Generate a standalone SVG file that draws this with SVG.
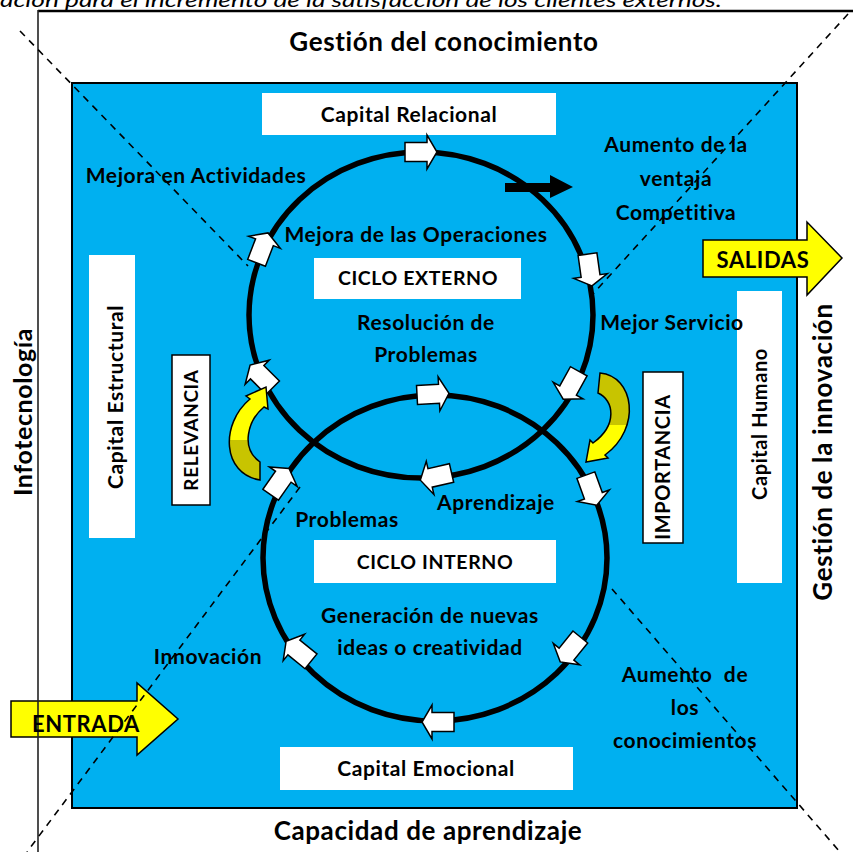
<svg xmlns="http://www.w3.org/2000/svg" width="853" height="852" viewBox="0 0 853 852">
<style>
.t{font-family:Lato,"Liberation Sans",sans-serif;font-weight:bold;font-size:21px;letter-spacing:0.6px;fill:#000;text-anchor:middle}
.h{font-size:26px}
.box{fill:#fff}
.bbox{fill:#fff;stroke:#000;stroke-width:1.5}
.ring{fill:none;stroke:#000;stroke-width:5.5}
.dash{fill:none;stroke:#000;stroke-width:1.6;stroke-dasharray:7 6}
.wa{fill:#fff;stroke:#000;stroke-width:1.5}
.ya{fill:#FFFF00;stroke:#000;stroke-width:1.5}
</style>
<defs>
<path id="wa" d="M-18,-9.5 H4 V-17 L14,0 L4,17 V9.5 H-18 Z"/>
<linearGradient id="gL" x1="0" y1="0" x2="0" y2="1">
<stop offset="0" stop-color="#FFFF00"/><stop offset="0.57" stop-color="#FFFF00"/>
<stop offset="0.57" stop-color="#C8C400"/><stop offset="1" stop-color="#C8C400"/>
</linearGradient>
<linearGradient id="gR" x1="0" y1="0" x2="0" y2="1">
<stop offset="0" stop-color="#C8C400"/><stop offset="0.58" stop-color="#C8C400"/>
<stop offset="0.58" stop-color="#FFFF00"/><stop offset="1" stop-color="#FFFF00"/>
</linearGradient>
</defs>
<rect width="853" height="852" fill="#fff"/>
<text x="0" y="7" textLength="722" lengthAdjust="spacingAndGlyphs" style="font-family:Lato,'Liberation Sans',sans-serif;font-style:italic;font-size:20px;fill:#000">ación para el incremento de la satisfacción de los clientes externos.</text>

<g id="frame">
<rect x="72" y="83" width="725" height="725" fill="#00B0F0" stroke="#000" stroke-width="2"/>
</g>

<g id="entrada">
<path class="ya" d="M11,701 H137 V683 L178,719 L137,755 V737 H11 Z"/>
</g>

<g id="frame-lines">
<line x1="38" y1="11" x2="853" y2="11" stroke="#000" stroke-width="2.5"/>
<line x1="38" y1="10" x2="38" y2="852" stroke="#222" stroke-width="1.6"/>
<line class="dash" x1="20" y1="31" x2="248" y2="266"/>
<line class="dash" x1="612" y1="589" x2="840" y2="852"/>
<line class="dash" x1="848" y1="14" x2="592" y2="295"/>
<line class="dash" x1="300" y1="487" x2="27" y2="852"/>
</g>

<g id="boxes">
<rect class="box" x="262" y="93" width="294" height="42"/>
<rect class="box" x="314" y="258" width="207" height="41"/>
<rect class="box" x="89" y="255" width="46" height="283"/>
<rect class="bbox" x="172" y="355" width="38" height="150"/>
<rect class="bbox" x="643" y="372" width="40" height="171"/>
<rect class="box" x="737" y="291" width="45" height="292"/>
<rect class="box" x="314" y="540" width="242" height="43"/>
<rect class="box" x="280" y="747" width="293" height="43"/>
</g>

<g id="connectors">
<ellipse class="ring" cx="421" cy="315" rx="172" ry="163"/>
<ellipse class="ring" cx="435" cy="558" rx="172" ry="163"/>
<use href="#wa" class="wa" transform="translate(423,152)"/>
<use href="#wa" class="wa" transform="translate(590,272) rotate(82)"/>
<use href="#wa" class="wa" transform="translate(570,387) rotate(119)"/>
<use href="#wa" class="wa" transform="translate(434,477) rotate(167)"/>
<use href="#wa" class="wa" transform="translate(260,375) rotate(-135)"/>
<use href="#wa" class="wa" transform="translate(263,246) rotate(-69)"/>
<use href="#wa" class="wa" transform="translate(435,394) rotate(-3)"/>
<use href="#wa" class="wa" transform="translate(592,492) rotate(70)"/>
<use href="#wa" class="wa" transform="translate(569,651) rotate(129)"/>
<use href="#wa" class="wa" transform="translate(436,722) rotate(180)"/>
<use href="#wa" class="wa" transform="translate(297,650) rotate(-141)"/>
<use href="#wa" class="wa" transform="translate(281,480) rotate(-55)"/>
<path d="M505,183 H550 V175 L573,187 L550,198 V192 H505 Z" fill="#000"/>
<path d="M266,387 L268,409 L264,407 C248,420 240,448 260,462 L260,480 C222,474 220,424 250,399 L246,396 Z" fill="url(#gL)" stroke="#000" stroke-width="1.5"/>
<path d="M600,373 C634,376 642,428 605,455 L608,458 L586,462 L590,440 L593,443 C618,425 614,400 598,393 Z" fill="url(#gR)" stroke="#000" stroke-width="1.5"/>
</g>

<g id="labels">
<text class="t h" x="444" y="51">Gestión del conocimiento</text>
<text class="t h" x="428" y="840">Capacidad de aprendizaje</text>
<text class="t" transform="translate(32,412) rotate(-90)" style="font-size:25px">Infotecnología</text>
<text class="t h" transform="translate(832,452) rotate(-90)">Gestión de la innovación</text>
<text class="t" x="409" y="122">Capital Relacional</text>
<text class="t" x="418" y="285" style="font-size:19.5px">CICLO EXTERNO</text>
<text class="t" x="435" y="569" style="font-size:19.5px">CICLO INTERNO</text>
<text class="t" x="426" y="776">Capital Emocional</text>
<text class="t" transform="translate(123,397) rotate(-90)">Capital Estructural</text>
<text class="t" transform="translate(198,430) rotate(-90)" style="font-size:19px">RELEVANCIA</text>
<text class="t" transform="translate(670,467) rotate(-90)" style="font-size:20px">IMPORTANCIA</text>
<text class="t" transform="translate(767,424) rotate(-90)" style="font-size:20px">Capital Humano</text>
<text class="t" x="196" y="183">Mejora en Actividades</text>
<text class="t" x="676" y="152">Aumento de la</text>
<text class="t" x="676" y="186">ventaja</text>
<text class="t" x="676" y="220">Competitiva</text>
<text class="t" x="416" y="242">Mejora de las Operaciones</text>
<text class="t" x="426" y="330">Resolución de</text>
<text class="t" x="426" y="362">Problemas</text>
<text class="t" x="672" y="330">Mejor Servicio</text>
<text class="t" x="496" y="510">Aprendizaje</text>
<text class="t" x="347" y="527">Problemas</text>
<text class="t" x="430" y="623">Generación de nuevas</text>
<text class="t" x="430" y="655">ideas o creatividad</text>
<text class="t" x="208" y="664">Innovación</text>
<text class="t" x="685" y="682" style="white-space:pre">Aumento  de</text>
<text class="t" x="685" y="715">los</text>
<text class="t" x="685" y="748">conocimientos</text>
</g>

<g id="salidas">
<path class="ya" d="M703,240 H807 V222 L842,258 L807,295 V277 H703 Z"/>
<text class="t" x="763" y="268" style="font-size:22px">SALIDAS</text>
</g>
<g id="entrada-label">
<text class="t" x="86" y="732" style="font-size:22px">ENTRADA</text>
</g>
</svg>
